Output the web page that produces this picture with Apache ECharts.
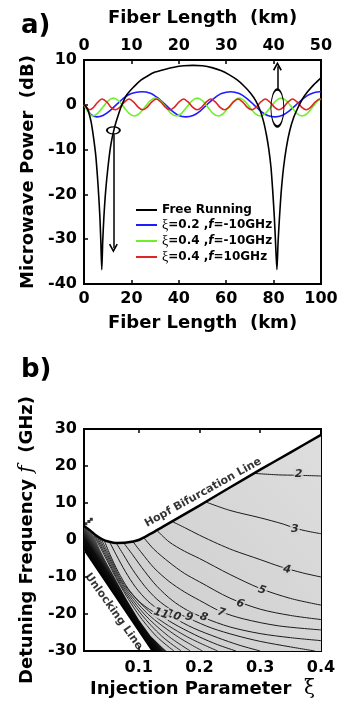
<!DOCTYPE html>
<html>
<head>
<meta charset="utf-8">
<script src="https://cdn.jsdelivr.net/npm/echarts@6/dist/echarts.min.js"></script>
<style>
html, body { margin: 0; padding: 0; background: #fff; }
#chart { width: 338px; height: 705px; }
</style>
</head>
<body>
<div id="chart"></div>
<script>
const FONT = 'DejaVu Sans'

// ---------- a) 光纤长度 - 微波功率 ----------
const seriesNames = ['Free Running', 'ξ=0.2 ,f=-10GHz', 'ξ=0.4 ,f=-10GHz', 'ξ=0.4 ,f=10GHz']
const seriesColors = ['#000000', '#1c1cff', '#6cf02a', '#e02424']

const freeRunning = [[0,0],[1,-0.5],[2,-1.7],[3,-3.8],[4,-7.2],[5,-11.5],[6,-18.5],[6.7,-25],[7.1,-30.5],[7.5,-36.8],
  [7.9,-30.5],[8.4,-25],[9.1,-19.5],[10.1,-14],[11.3,-9],[12.8,-5.2],[14.5,-2.2],[16,0],[18,2.2],[21,4.0],[24,5.5],
  [27,6.5],[30,7.3],[34,7.9],[38,8.4],[42,8.7],[46,8.8],[50,8.7],[54,8.3],[58,7.6],[61,6.8],[64.5,5.6],[67.5,4.2],
  [70.3,2.6],[72.5,0.9],[74.3,-1.2],[75.8,-3.8],[77,-6.8],[78,-10],[78.9,-14],[79.6,-19],[80.3,-25],[80.8,-30.5],
  [81.4,-36.8],[81.9,-30.5],[82.5,-25],[83.2,-19.5],[84.2,-14],[85.4,-9.5],[86.8,-5.8],[88.5,-2.8],[90.3,-0.6],
  [92.3,1.4],[94.5,3.0],[97,4.5],[100,6.0]]

const xi02Neg10 = [[0,0],[1.5,-1.2],[3,-2.2],[5.4,-2.7],[8,-2.4],[11,-1.3],[14,0.2],[17,1.6],[20,2.5],[24.2,2.9],
  [28,2.6],[31,1.6],[34,0.2],[37,-1.3],[40,-2.4],[43,-2.7],[46,-2.4],[49,-1.4],[52,0.1],[55,1.5],[58,2.5],[61.9,2.9],
  [65.5,2.5],[68.5,1.5],[71.5,0.1],[74.5,-1.4],[77.5,-2.4],[80.6,-2.7],[83.5,-2.4],[86.5,-1.4],[89.5,0],[92.5,1.4],
  [95.5,2.4],[99.4,2.9],[100,2.9]]

const xi04Neg10 = [[0,0],[1.8,-1.6],[3.6,-2.5],[5.8,-1.9],[8,-0.5],[10.2,0.9],[12.4,1.5],[14.6,0.9],[16.8,-0.5],
  [19,-1.9],[21.3,-2.5],[23.5,-1.9],[25.7,-0.5],[27.9,0.9],[30.1,1.5],[32.3,0.9],[34.5,-0.5],[36.7,-1.9],[39,-2.5],
  [41.2,-1.9],[43.4,-0.5],[45.6,0.9],[47.8,1.5],[50,0.9],[52.2,-0.5],[54.4,-1.9],[56.7,-2.5],[58.9,-1.9],[61.1,-0.5],
  [63.3,0.9],[65.5,1.5],[67.7,0.9],[69.9,-0.5],[72.1,-1.9],[74.4,-2.5],[76.6,-1.9],[78.8,-0.5],[81,0.9],[83.2,1.5],
  [85.4,0.9],[87.6,-0.5],[89.8,-1.9],[92.1,-2.5],[94.3,-1.9],[96.5,-0.5],[98.7,0.9],[100,1.3]]

const xi04Pos10 = [[0,0],[1,-0.6],[2.3,-1.1],[3.8,-0.7],[5.5,0.4],[7.5,1.3],[9.7,0.6],[11.3,-0.5],[13.2,-1.1],
  [15.2,-0.5],[17,0.6],[19,1.3],[21,0.6],[22.8,-0.5],[24.7,-1.1],[26.7,-0.5],[28.5,0.6],[30.5,1.3],[32.5,0.6],
  [34.3,-0.5],[36.2,-1.1],[38.2,-0.5],[40,0.6],[42,1.3],[44,0.6],[45.8,-0.5],[47.7,-1.1],[49.7,-0.5],[51.5,0.6],
  [53.5,1.3],[55.5,0.6],[57.3,-0.5],[59.2,-1.1],[61.2,-0.5],[63,0.6],[65,1.3],[67,0.6],[68.8,-0.5],[70.7,-1.1],
  [72.7,-0.5],[74.5,0.6],[76.5,1.3],[78.5,0.6],[80.3,-0.5],[82.2,-1.1],[84.2,-0.5],[86,0.6],[88,1.3],[90,0.6],
  [91.8,-0.5],[93.7,-1.1],[95.7,-0.5],[97.5,0.6],[99.5,1.3],[100,1.2]]

// 椭圆标注中心、箭头起止
const ellipseMarks = [[12.4, -5.7], [81.6, -0.7]]
const arrowMarks = [[[12.4, -6.6], [12.4, -32]], [[81.6, 3.4], [81.6, 8.6]]]

// ---------- b) 注入参数 - 失谐频率 ----------
const xiTicks = [0.1, 0.2, 0.3, 0.4]
const hopfLine = [[0.01,3.8],[0.02,2.6],[0.03,1.2],[0.041,0.1],[0.05,-0.4],[0.063,-0.8],[0.08,-0.7],[0.1,0.0],
  [0.12,1.7],[0.14,3.6],[0.16,5.5],[0.2,9.3],[0.25,14.2],[0.3,19.0],[0.35,23.7],[0.4,28.4]]
const unlockLine = [[0.01,-3.0],[0.121,-30]]
const darkEdge = [[0.01,3.8],[0.02,2.6],[0.028,0.6],[0.036,-2.5],[0.045,-5.5],[0.06,-10],[0.08,-16],[0.1,-21.5],
  [0.12,-26],[0.14,-29.2],[0.146,-30]]
const corner = [[0.4,-30]]

const contour2 = [[0.29,18.0],[0.33,17.6],[0.36,17.5],[0.4,17.3]]
const contour3 = [[0.21,10.3],[0.25,8.0],[0.3,6.0],[0.338,4.3],[0.357,3.2],[0.38,2.3],[0.4,1.7]]
const contour4 = [[0.155,5.0],[0.175,3.4],[0.2,1.3],[0.23,-1.0],[0.256,-2.8],[0.3,-5.3],[0.333,-7.2],[0.37,-8.9],[0.4,-10.0]]
const contour5 = [[0.13,2.6],[0.15,-0.5],[0.175,-3.0],[0.2,-5.0],[0.25,-9.3],[0.3,-13.1],[0.35,-15.8],[0.4,-17.6]]
const contour6 = [[0.108,0.7],[0.125,-2.5],[0.15,-6.0],[0.175,-9.0],[0.2,-11.3],[0.25,-15.7],[0.3,-18.7],[0.35,-20.4],[0.4,-21.5]]
const contour7 = [[0.09,-0.35],[0.105,-3.5],[0.125,-7.5],[0.15,-11.2],[0.175,-14.0],[0.2,-16.3],[0.236,-19.4],[0.272,-21.3],[0.33,-23.2],[0.4,-24.3]]
const contour8 = [[0.075,-0.7],[0.09,-4.0],[0.11,-8.5],[0.13,-12.5],[0.155,-16.3],[0.18,-19.0],[0.207,-21.0],[0.25,-23.5],[0.3,-25.3],[0.35,-26.4],[0.4,-27.2]]
const contour9 = [[0.063,-0.8],[0.075,-4.0],[0.09,-8.0],[0.11,-12.5],[0.13,-16.0],[0.155,-19.0],[0.183,-21.2],[0.22,-23.8],[0.26,-25.8],[0.3,-27.4],[0.35,-28.9],[0.39,-30]]
const contour10 = [[0.052,-0.5],[0.063,-4.0],[0.078,-8.5],[0.095,-12.8],[0.115,-16.5],[0.135,-19.0],[0.157,-21.0],[0.19,-23.8],[0.23,-26.4],[0.265,-28.4],[0.3,-30]]
const contour11 = [[0.043,0],[0.053,-4.0],[0.066,-8.5],[0.082,-13.0],[0.1,-16.5],[0.118,-18.8],[0.137,-20.6],[0.165,-23.3],[0.2,-26.2],[0.23,-28.3],[0.26,-30]]
const contour12 = [[0.038,0.4],[0.051,-4],[0.076,-12],[0.122,-20],[0.178,-26],[0.23,-30]]
const contour13 = [[0.034,0.8],[0.049,-4],[0.074,-12],[0.115,-20],[0.163,-26],[0.205,-30]]
const contour14 = [[0.031,1.1],[0.047,-4],[0.072,-12],[0.109,-20],[0.149,-26],[0.185,-30]]
const contour15 = [[0.028,1.4],[0.045,-4],[0.07,-12],[0.104,-20],[0.138,-26],[0.17,-30]]
const contour16 = [[0.025,1.8],[0.043,-4],[0.0685,-12],[0.099,-20],[0.129,-26],[0.158,-30]]
const contourLines = [contour2, contour3, contour4, contour5, contour6, contour7, contour8, contour9,
  contour10, contour11, contour12, contour13, contour14, contour15, contour16]

// 等值线标号 [ξ, f, 文字]
const contourLabels = [[0.363,17.8,'2'],[0.357,2.9,'3'],[0.344,-8.0,'4'],[0.303,-13.6,'5'],[0.267,-17.2,'6'],
  [0.236,-19.6,'7'],[0.207,-20.9,'8'],[0.183,-20.9,'9'],[0.157,-20.4,'10'],[0.137,-19.9,'11']]
const edgeDots = [[0.022,5.6],[0.018,5.0],[0.013,4.4]]
// 文字标注锚点
const annotations = [[0.206,12.8,'Hopf Bifurcation Line'],[0.0588,-19.3,'Unlocking Line']]

const chart = echarts.init(document.getElementById('chart'), null, { renderer: 'canvas' })

const bold16 = { color: '#000', fontFamily: FONT, fontWeight: 'bold', fontSize: 16 }
const nameStyle = { color: '#000', fontFamily: FONT, fontWeight: 'bold', fontSize: 18 }
const tickIn = { show: true, inside: true, length: 4, lineStyle: { color: '#000', width: 1.5 } }
const noLine = { show: false, onZero: false }

function richName(name) {
  return name.replace(/^ξ(.*?),f(.*)$/, '{x|ξ}{n|$1,}{i|f}{n|$2}').replace(/^Free Running$/, '{n|Free Running}')
}

function polygon(name, pts, fill, z) {
  return {
    type: 'custom', name, xAxisIndex: 2, yAxisIndex: 2, z, silent: true,
    data: [[0.2, 0]],
    renderItem: (params, api) => ({
      type: 'polygon',
      shape: { points: pts.map(p => api.coord(p)) },
      style: { fill: typeof fill === 'function' ? fill(api) : fill, stroke: null }
    })
  }
}

// 暗带渐变：垂直于失锁线
function darkFill(api) {
  const a = api.coord(unlockLine[0])
  const b = api.coord(unlockLine[1])
  const dx = b[0] - a[0], dy = b[1] - a[1], len = Math.hypot(dx, dy)
  const nx = dy / len, ny = -dx / len
  return {
    type: 'linear', global: true,
    x: a[0], y: a[1], x2: a[0] + nx * 15, y2: a[1] + ny * 15,
    colorStops: [{ offset: 0, color: '#000' }, { offset: 0.5, color: '#0d0d0d' }, { offset: 1, color: '#505050' }]
  }
}

const option = {
  animation: false,
  backgroundColor: '#fff',
  title: [
    { text: 'a)', left: 16, top: 8, textStyle: { fontFamily: FONT, fontWeight: 'bold', fontSize: 26, color: '#000' } },
    { text: 'b)', left: 16, top: 352, textStyle: { fontFamily: FONT, fontWeight: 'bold', fontSize: 26, color: '#000' } }
  ],
  legend: {
    data: seriesNames,
    orient: 'vertical',
    left: 136, top: 204, padding: 0,
    icon: 'rect',
    itemWidth: 21, itemHeight: 2, itemGap: 2,
    selectedMode: false,
    formatter: richName,
    textStyle: {
      color: '#000',
      rich: {
        n: { fontFamily: FONT, fontWeight: 'bold', fontSize: 12, color: '#000', lineHeight: 15.5 },
        i: { fontFamily: FONT, fontWeight: 'bold', fontStyle: 'italic', fontSize: 12, color: '#000', lineHeight: 15.5 },
        x: { fontFamily: 'Liberation Serif', fontSize: 14, color: '#000', lineHeight: 15.5 }
      }
    }
  },
  grid: [
    { left: 84, top: 60, width: 237, height: 224, show: true, borderColor: '#000', borderWidth: 2, outerBoundsMode: 'none' },
    { left: 84, top: 429, width: 237, height: 222, show: true, borderColor: '#000', borderWidth: 2, outerBoundsMode: 'none' }
  ],
  xAxis: [
    {
      gridIndex: 0, type: 'value', position: 'bottom', min: 0, max: 100, interval: 20,
      axisLine: noLine, axisTick: tickIn, splitLine: { show: false },
      axisLabel: { ...bold16, margin: 7 },
      name: 'Fiber Length  (km)', nameLocation: 'middle', nameGap: 30, nameTextStyle: nameStyle
    },
    {
      gridIndex: 0, type: 'value', position: 'top', min: 0, max: 50, interval: 10,
      axisLine: noLine, axisTick: tickIn, splitLine: { show: false },
      axisLabel: { ...bold16, margin: 6 },
      name: 'Fiber Length  (km)', nameLocation: 'middle', nameGap: 33, nameTextStyle: nameStyle
    },
    {
      gridIndex: 1, type: 'value', position: 'bottom', min: 0.01, max: 0.4,
      axisLine: noLine, splitLine: { show: false },
      axisTick: { ...tickIn, customValues: xiTicks },
      axisLabel: { ...bold16, margin: 9, customValues: xiTicks, formatter: v => v.toFixed(1) },
      name: '{b|Injection Parameter  }{x|ξ}', nameLocation: 'middle', nameGap: 28,
      nameTextStyle: {
        rich: {
          b: nameStyle,
          x: { fontFamily: 'DejaVu Serif', fontSize: 20, color: '#000' }
        }
      }
    },
    {
      gridIndex: 1, type: 'value', position: 'top', min: 0.01, max: 0.4,
      axisLine: noLine, splitLine: { show: false },
      axisTick: { ...tickIn, customValues: xiTicks },
      axisLabel: { show: false }
    }
  ],
  yAxis: [
    {
      gridIndex: 0, type: 'value', min: -40, max: 10, interval: 10,
      axisLine: noLine, axisTick: tickIn, splitLine: { show: false },
      axisLabel: { ...bold16, margin: 7 },
      name: 'Microwave Power  (dB)', nameLocation: 'middle', nameGap: 47, nameTextStyle: nameStyle
    },
    {
      gridIndex: 1, type: 'value', min: -30, max: 30, interval: 10,
      axisLine: noLine, axisTick: tickIn, splitLine: { show: false },
      axisLabel: { ...bold16, margin: 7 },
      name: '{b|Detuning Frequency }{f|f}{b|  (GHz)}', nameLocation: 'middle', nameGap: 47,
      nameTextStyle: {
        rich: {
          b: nameStyle,
          f: { fontFamily: 'DejaVu Serif', fontStyle: 'italic', fontSize: 20, color: '#000' }
        }
      }
    },
    {
      gridIndex: 1, type: 'value', position: 'right', min: -30, max: 30, interval: 10,
      axisLine: noLine, axisTick: tickIn, splitLine: { show: false }, axisLabel: { show: false }
    }
  ],
  series: [
    // a)
    ...[freeRunning, xi02Neg10, xi04Neg10, xi04Pos10].map((d, i) => ({
      type: 'line', name: seriesNames[i], xAxisIndex: 0, yAxisIndex: 0,
      data: d, symbol: 'none', smooth: 0.25, z: i === 0 ? 4 : 3,
      lineStyle: { color: seriesColors[i], width: 1.6 },
      itemStyle: { color: seriesColors[i] }
    })),
    {
      type: 'scatter', name: 'marks', xAxisIndex: 0, yAxisIndex: 0, z: 5, silent: true,
      symbol: 'circle',
      data: ellipseMarks.map((p, i) => ({ value: p, symbolSize: i === 0 ? [13, 7] : [13, 37] })),
      itemStyle: { color: 'rgba(0,0,0,0)', borderColor: '#000', borderWidth: 1.5, opacity: 1 },
      markLine: {
        silent: true, animation: false,
        symbol: ['none', 'path://M5,0 L10,9 L8.4,10 L5,3.6 L1.6,10 L0,9 Z'], symbolSize: 9,
        label: { show: false },
        lineStyle: { color: '#000', width: 1.5, type: 'solid' },
        data: arrowMarks.map(([s, e]) => [{ coord: s }, { coord: e }])
      }
    },
    // b)
    polygon('region', hopfLine.concat(corner, unlockLine.slice().reverse()), {
      type: 'linear', x: 1, y: 0, x2: 0, y2: 1,
      colorStops: [{ offset: 0, color: '#dedede' }, { offset: 1, color: '#cbcbcb' }]
    }, 1),
    polygon('dark', darkEdge.concat(unlockLine.slice().reverse()), darkFill, 2),
    ...contourLines.map((d, i) => ({
      type: 'line', name: 'c' + (i + 2), xAxisIndex: 2, yAxisIndex: 2, z: 3, silent: true,
      data: d, symbol: 'none', smooth: 0.3,
      lineStyle: { color: i < 10 ? '#1a1a1a' : '#2a2a2a', width: 1 }
    })),
    {
      type: 'line', name: 'hopf', xAxisIndex: 2, yAxisIndex: 2, z: 4, silent: true,
      data: hopfLine, symbol: 'none', smooth: 0.3,
      lineStyle: { color: '#000', width: 2.5 }
    },
    {
      type: 'scatter', name: 'dots', xAxisIndex: 2, yAxisIndex: 2, z: 4, silent: true,
      data: edgeDots, symbol: 'rect', symbolSize: 3, itemStyle: { color: '#000' }
    },
    {
      type: 'scatter', name: 'clabels', xAxisIndex: 2, yAxisIndex: 2, z: 6, silent: true,
      symbolSize: 0,
      data: contourLabels.map(([x, y, t]) => ({
        value: [x, y], name: t,
        label: { rotate: Number(t) >= 5 ? -18 : (t === '4' ? -10 : 0) }
      })),
      label: {
        show: true, position: 'inside', formatter: '{b}',
        fontFamily: FONT, fontWeight: 'bold', fontStyle: 'italic', fontSize: 11, color: '#000',
        backgroundColor: '#d3d3d3', padding: [0, 1]
      }
    },
    {
      type: 'scatter', name: 'notes', xAxisIndex: 2, yAxisIndex: 2, z: 6, silent: true,
      symbolSize: 0,
      data: annotations.map(([x, y, t], i) => ({
        value: [x, y], name: t,
        label: { rotate: i === 0 ? 29 : -54.5 }
      })),
      label: {
        show: true, position: 'inside', formatter: '{b}',
        fontFamily: FONT, fontWeight: 'bold', fontSize: 11, color: '#000'
      }
    }
  ]
}

chart.setOption(option)
</script>
</body>
</html>
